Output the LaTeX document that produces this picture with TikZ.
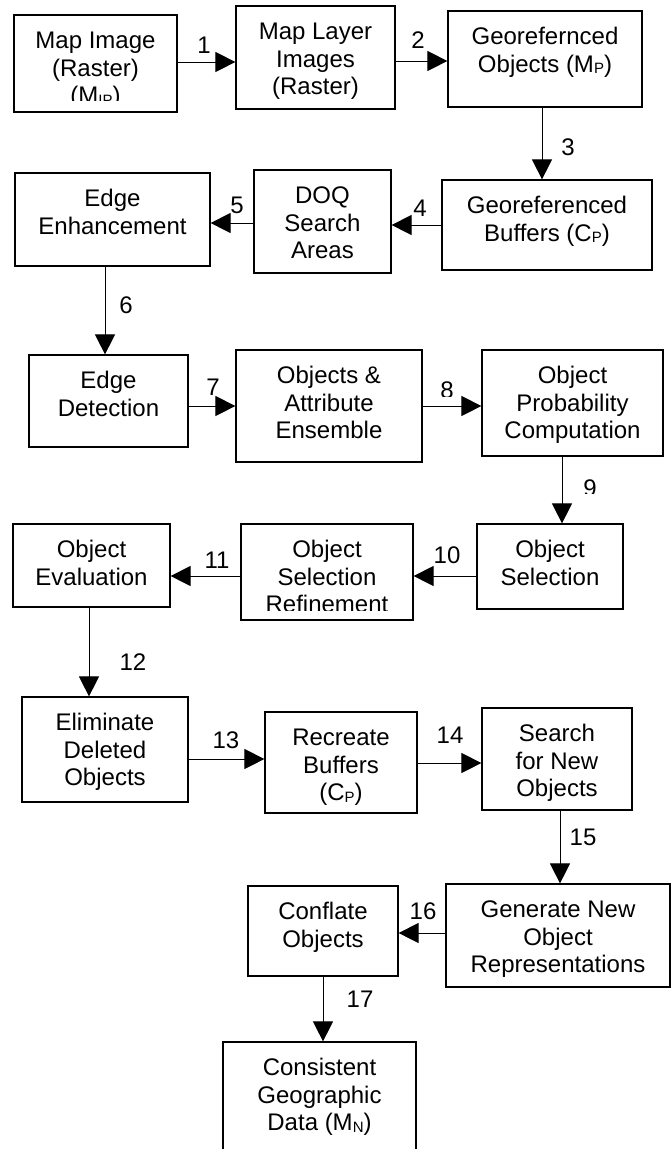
\documentclass[tikz,border=0pt]{standalone}
\usepackage{fontspec}
\setmainfont{Liberation Sans}
\usetikzlibrary{arrows.meta}
\newcommand\sbs[1]{\raisebox{-1.5pt}{\fontsize{15}{15}\selectfont #1}}
\newcommand\fl{\rule{0pt}{22pt}}
% name, left, top, right, bottom, text clip bottom, text
\newcommand\flowbox[7]{%
  \node[box, minimum width={#4-#2}, minimum height={#5-#3}] (#1) at ({(#2+#4)/2},{(#3+#5)/2}) {};
  \begin{scope}
    \clip (#2,#3) rectangle (#4,#6);
    \node[txt] (#1t) at ({(#2+#4)/2},{#3+11.5}) {\fl #7};
  \end{scope}}
\begin{document}
\begin{tikzpicture}[x=1pt,y=-1pt,
  box/.style={draw, line width=1.2pt, inner sep=0pt, rectangle},
  txt/.style={anchor=north, inner sep=0pt, align=center, font=\fontsize{24}{27.5}\selectfont},
  lbl/.style={inner sep=0pt, font=\fontsize{24}{27.5}\selectfont},
  arr/.style={line width=1pt, -{Triangle[length=20pt,width=20pt]}}]
\useasboundingbox (0,0) rectangle (672,1149);
\clip (0,0) rectangle (672,1149);

\flowbox{b1}{14}{15}{177}{112}{100}{Map Image\\(Raster)\\(M\sbs{IP})}
\flowbox{b2}{236}{6}{395}{109}{109}{Map Layer\\Images\\(Raster)}
\flowbox{b3}{448}{11}{642}{107}{107}{Georefernced\\Objects (M\sbs{P})}
\flowbox{b4}{442}{180}{652}{270}{270}{Georeferenced\\Buffers (C\sbs{P})}
\flowbox{b5}{254}{170}{391}{273}{273}{DOQ\\Search\\Areas}
\flowbox{b6}{15}{173}{210}{266}{266}{Edge\\Enhancement}
\flowbox{b7}{29}{355}{188}{447}{447}{Edge\\Detection}
\flowbox{b8}{236}{350}{422}{462}{462}{Objects \&\\Attribute\\Ensemble}
\flowbox{b9}{482}{350}{663}{456}{456}{Object\\Probability\\Computation}
\flowbox{b10}{477}{524}{623}{609}{609}{Object\\Selection}
\flowbox{b11}{241}{524}{413}{620}{610}{Object\\Selection\\Refinement}
\flowbox{b12}{13}{524}{170}{607}{607}{Object\\Evaluation}
\flowbox{b13}{22}{697}{188}{802}{802}{Eliminate\\Deleted\\Objects}
\flowbox{b14}{265}{712}{417}{813}{813}{Recreate\\Buffers\\(C\sbs{P})}
\flowbox{b15}{482}{708}{632}{810}{810}{Search\\for New\\Objects}
\flowbox{b16}{446}{884}{670}{987}{987}{Generate New\\Object\\Representations}
\flowbox{b17}{248}{886}{398}{976}{976}{Conflate\\Objects}
\flowbox{b18}{223}{1042}{416}{1175}{1149}{Consistent\\Geographic\\Data (M\sbs{N})}

% connectors
\draw[arr] (b1.east |- 0,62) -- (b2.west |- 0,62);
\draw[arr] (b2.east |- 0,61) -- (b3.west |- 0,61);
\draw[arr] (b3.south -| 542,0) -- (b4.north -| 542,0);
\draw[arr] (b4.west |- 0,225) -- (b5.east |- 0,225);
\draw[arr] (b5.west |- 0,223) -- (b6.east |- 0,223);
\draw[arr] (b6.south -| 105,0) -- (b7.north -| 105,0);
\draw[arr] (b7.east |- 0,406) -- (b8.west |- 0,406);
\draw[arr] (b8.east |- 0,406) -- (b9.west |- 0,406);
\draw[arr] (b9.south -| 562,0) -- (b10.north -| 562,0);
\draw[arr] (b10.west |- 0,576) -- (b11.east |- 0,576);
\draw[arr] (b11.west |- 0,576) -- (b12.east |- 0,576);
\draw[arr] (b12.south -| 89,0) -- (b13.north -| 89,0);
\draw[arr] (b13.east |- 0,759) -- (b14.west |- 0,759);
\draw[arr] (b14.east |- 0,763) -- (b15.west |- 0,763);
\draw[arr] (b15.south -| 560,0) -- (b16.north -| 560,0);
\draw[arr] (b16.west |- 0,933) -- (b17.east |- 0,933);
\draw[arr] (b17.south -| 323,0) -- (b18.north -| 323,0);

% labels
\node[lbl] (l1) at (204,45) {1};
\node[lbl] (l2) at (418,40) {2};
\node[lbl] (l3) at (568,147) {3};
\node[lbl] (l4) at (420,208) {4};
\node[lbl] (l5) at (237,205) {5};
\node[lbl] (l6) at (126,305) {6};
\node[lbl] (l7) at (213,387) {7};
\begin{scope}
  \clip (430,370) rectangle (465,396);
  \node[lbl] (l8) at (447,390) {8};
\end{scope}
\begin{scope}
  \clip (575,470) rectangle (605,493);
  \node[lbl] (l9) at (590,488) {9};
\end{scope}
\node[lbl] (l10) at (447,555) {10};
\node[lbl] (l11) at (217,560) {11};
\node[lbl] (l12) at (133,662) {12};
\node[lbl] (l13) at (226,740) {13};
\node[lbl] (l14) at (450,735) {14};
\node[lbl] (l15) at (583,837) {15};
\node[lbl] (l16) at (423,911) {16};
\node[lbl] (l17) at (360,999) {17};
\end{tikzpicture}
\end{document}
